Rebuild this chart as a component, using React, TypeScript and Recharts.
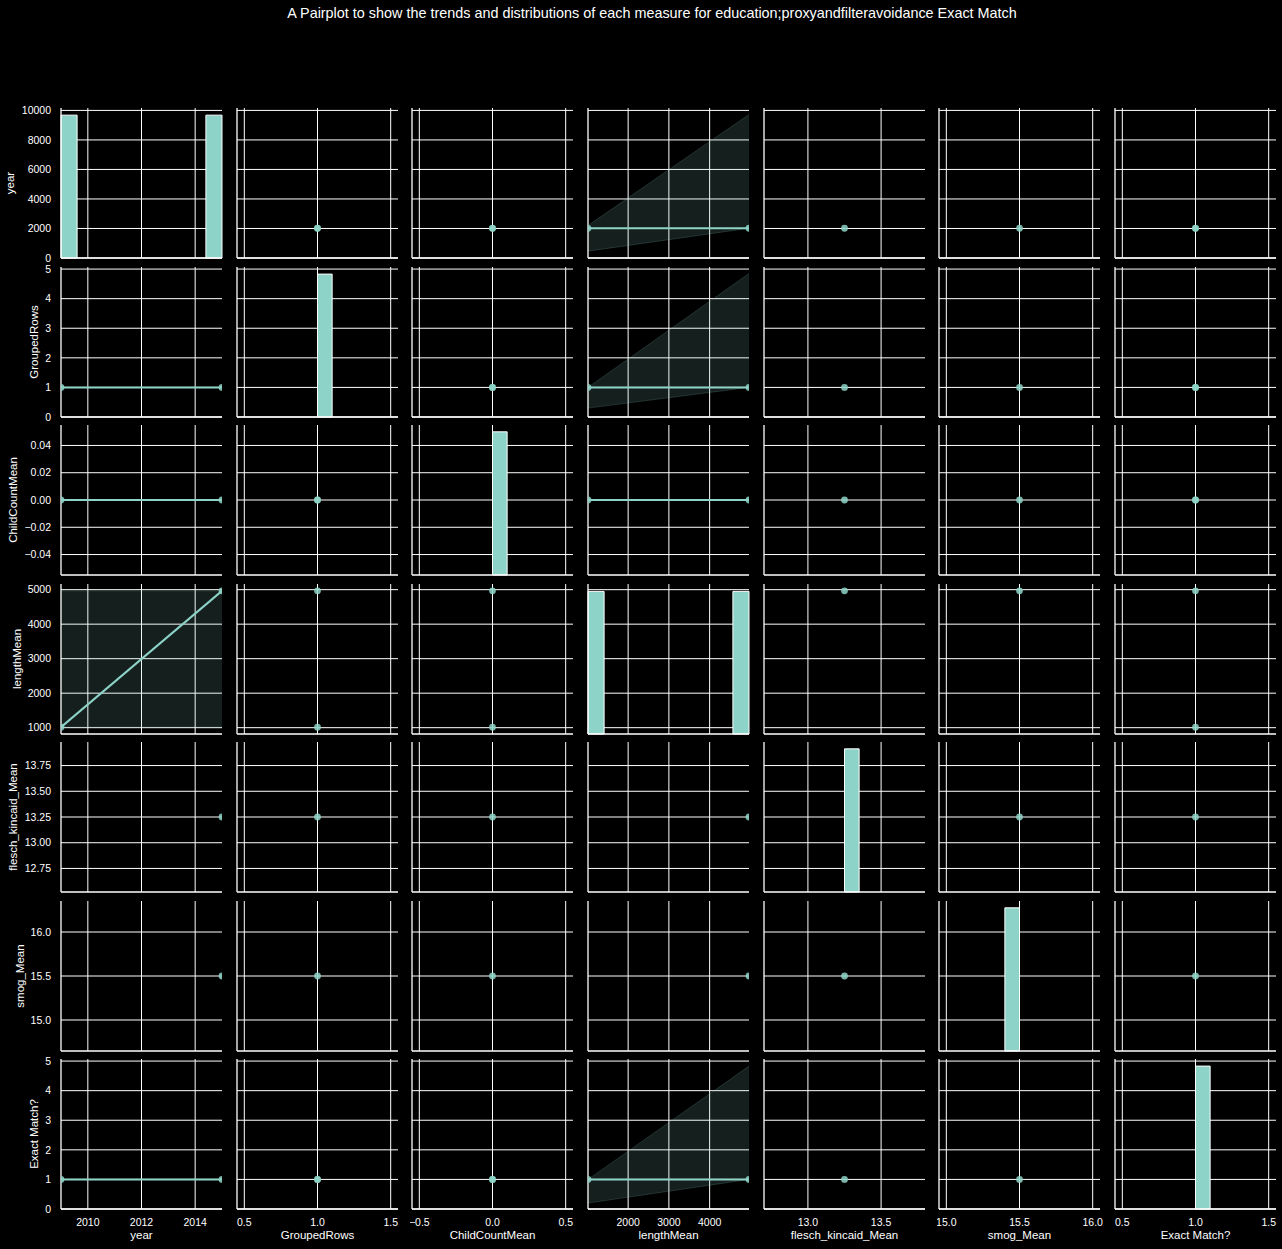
import React from 'react';
import { ComposedChart, XAxis, YAxis, CartesianGrid, Scatter, Line, Area, ReferenceArea } from 'recharts';

// ---- data (two records) ----
const variableNames = ['year', 'GroupedRows', 'ChildCountMean', 'lengthMean', 'flesch_kincaid_Mean', 'smog_Mean', 'Exact Match?'];
const year = [2009, 2015];
const groupedRows = [1, 1];
const childCountMean = [0, 0];
const lengthMean = [1015, 4966];
const fleschKincaidMean: (number | null)[] = [null, 13.25];
const smogMean: (number | null)[] = [null, 15.5];
const exactMatch = [1, 1];

// ---- axes ----
const xDomains = [[2009, 2015], [0.45, 1.55], [-0.55, 0.55], [1015, 4966], [12.7, 13.8], [14.95, 16.05], [0.45, 1.55]];
const yDomains = [[0, 10164], [0, 5.07], [-0.055, 0.055], [817, 5164], [12.521, 13.979], [14.6475, 16.3525], [0, 5.07]];
const xTicks = [[2010, 2012, 2014], [0.5, 1, 1.5], [-0.5, 0, 0.5], [2000, 3000, 4000], [13, 13.5], [15, 15.5, 16], [0.5, 1, 1.5]];
const yTicks = [[0, 2000, 4000, 6000, 8000, 10000], [0, 1, 2, 3, 4, 5], [-0.04, -0.02, 0, 0.02, 0.04], [1000, 2000, 3000, 4000, 5000], [12.75, 13, 13.25, 13.5, 13.75], [15, 15.5, 16], [0, 1, 2, 3, 4, 5]];
const xTickDecimals = [0, 1, 1, 0, 1, 1, 1];
const yTickDecimals = [0, 0, 2, 0, 2, 1, 0];

// ---- diagonal histograms ----
const histBinStarts = [[2009, 2014.4], [1.0], [0.0], [1015, 4571], [13.25], [15.4], [1.0]];
const histBinEnds = [[2009.6, 2015], [1.1], [0.1], [1410, 4966], [13.35], [15.5], [1.1]];
const histHeights = [[9680, 9680], [4.83], [0.05], [4950, 4950], [13.9125], [16.275], [4.83]];

// ---- regression panels [row, col] and confidence bands ----
const regPanels = [[0, 3], [1, 0], [1, 3], [2, 0], [2, 3], [3, 0], [6, 0], [6, 3]];
const regBandLower = [[464, 2015], [1, 1], [0.3, 1], [0, 0], [0, 0], [1015, 1015], [1, 1], [0.2, 1]];
const regBandUpper = [[2200, 9727], [1, 1], [1, 4.85], [0, 0], [0, 0], [4966, 4966], [1, 1], [1, 4.83]];

const series = [year, groupedRows, childCountMean, lengthMean, fleschKincaidMean, smogMean, exactMatch];

const PW = 161;
const PH = 150;
const colLeft = (c: number) => Math.round(61 + c * 175.67);
const rowTop = (r: number) => Math.round(108 + r * 158.5);
const TEAL = '#8dd3c7';
const FONT = '"Liberation Sans", Arial, Helvetica, sans-serif';

const fmt = (v: number, d: number) => v.toFixed(d).replace('-', '\u2212');

const dot = (props: any) => (
  <circle cx={props.cx} cy={props.cy} r={3.4} fill={TEAL} fillOpacity={0.85} />
);

const noTick = () => <g />;

function Panel({ r, c }: { r: number; c: number }) {
  const L = c === 0 ? 61 : 2;
  const XH = r === 6 ? 26 : 2;
  const T = 8;
  const R = 6;
  const MB = 8;
  const xs = series[c] as (number | null)[];
  const ys = series[r] as (number | null)[];
  const isDiag = r === c;
  const points = isDiag ? [] : xs.map((x, i) => ({ x, y: ys[i] })).filter(p => p.x != null && p.y != null);
  const regIndex = regPanels.findIndex(([rr, cc]) => rr === r && cc === c);
  const lineData = regIndex >= 0
    ? points.map((p, i) => ({ x: p.x, y: p.y, band: [regBandLower[regIndex][i], regBandUpper[regIndex][i]] }))
    : [];
  const tickStyle = { fill: '#ffffff', fontSize: 10.5, fontFamily: FONT };
  const gridLine = { stroke: '#ffffff', strokeWidth: 1, shapeRendering: 'crispEdges' };
  return (
    <div style={{ position: 'absolute', left: colLeft(c) - L, top: rowTop(r) - T }}>
      <ComposedChart
        width={L + PW + R}
        height={T + PH + XH + MB}
        margin={{ top: T, right: R, bottom: MB, left: 0 }}
        data={lineData}
      >
        <CartesianGrid stroke="#ffffff" horizontal={gridLine} vertical={gridLine} syncWithTicks />
        <XAxis
          type="number"
          dataKey="x"
          domain={xDomains[c]}
          ticks={xTicks[c]}
          interval={0}
          allowDataOverflow
          height={XH}
          tick={r === 6 ? tickStyle : noTick}
          tickSize={0}
          tickMargin={10}
          tickLine={false}
          axisLine={{ stroke: '#ffffff', strokeWidth: 1.3 }}
          tickFormatter={(v: number) => fmt(v, xTickDecimals[c])}
        />
        <YAxis
          type="number"
          dataKey="y"
          domain={yDomains[r]}
          ticks={yTicks[r]}
          interval={0}
          allowDataOverflow
          width={L}
          tick={c === 0 ? tickStyle : noTick}
          tickSize={0}
          tickMargin={10}
          tickLine={false}
          axisLine={{ stroke: '#ffffff', strokeWidth: 1.3 }}
          tickFormatter={(v: number) => fmt(v, yTickDecimals[r])}
        />
        {isDiag && histBinStarts[c].map((s, i) => (
          <ReferenceArea
            key={i}
            x1={s}
            x2={histBinEnds[c][i]}
            y1={yDomains[r][0]}
            y2={histHeights[c][i]}
            fill={TEAL}
            fillOpacity={1}
            stroke="#ffffff"
            strokeWidth={1}
            ifOverflow="visible"
          />
        ))}
        {regIndex >= 0 && (
          <Area
            type="linear"
            dataKey="band"
            fill={TEAL}
            fillOpacity={0.15}
            stroke={TEAL}
            strokeOpacity={0.18}
            strokeWidth={1}
            isAnimationActive={false}
            activeDot={false}
          />
        )}
        {regIndex >= 0 && (
          <Line
            type="linear"
            dataKey="y"
            stroke={TEAL}
            strokeWidth={2}
            dot={false}
            activeDot={false}
            isAnimationActive={false}
          />
        )}
        {!isDiag && (
          <Scatter data={points} dataKey="y" shape={dot} isAnimationActive={false} />
        )}
      </ComposedChart>
    </div>
  );
}

const yLabelX = [11, 35, 14, 17.5, 14, 21, 35];

export default function App() {
  const idx = [0, 1, 2, 3, 4, 5, 6];
  return (
    <div style={{ position: 'absolute', left: 0, top: 0, width: 1282, height: 1249, background: '#000000', overflow: 'hidden', fontFamily: FONT, color: '#ffffff' }}>
      <div style={{ position: 'absolute', left: 652, top: 13, transform: 'translate(-50%, -50%)', fontSize: 14.4, whiteSpace: 'nowrap', lineHeight: 1 }}>
        A Pairplot to show the trends and distributions of each measure for education;proxyandfilteravoidance Exact Match
      </div>
      {idx.map(r => idx.map(c => <Panel key={`${r}-${c}`} r={r} c={c} />))}
      {idx.map(c => (
        <div key={`xl${c}`} style={{ position: 'absolute', left: colLeft(c) + PW / 2, top: 1236, transform: 'translate(-50%, -50%)', fontSize: 11.5, whiteSpace: 'nowrap', lineHeight: 1 }}>
          {variableNames[c]}
        </div>
      ))}
      {idx.map(r => (
        <div key={`yl${r}`} style={{ position: 'absolute', left: yLabelX[r], top: rowTop(r) + PH / 2, transform: 'translate(-50%, -50%) rotate(-90deg)', fontSize: 11.5, whiteSpace: 'nowrap', lineHeight: 1 }}>
          {variableNames[r]}
        </div>
      ))}
    </div>
  );
}
